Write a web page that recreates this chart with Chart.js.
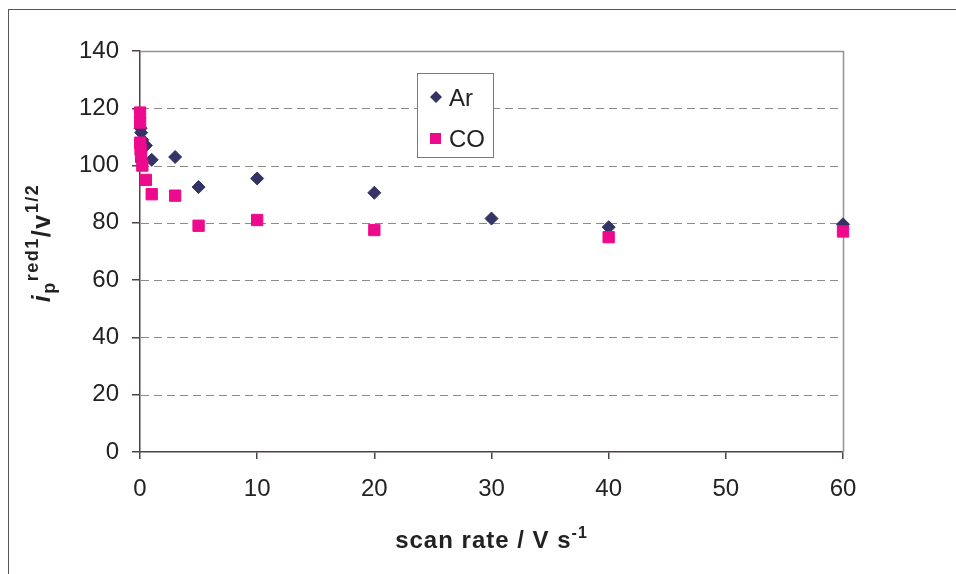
<!DOCTYPE html>
<html>
<head>
<meta charset="utf-8">
<script src="https://cdn.jsdelivr.net/npm/chart.js@4/dist/chart.umd.min.js"></script>
<style>
  html, body { margin: 0; padding: 0; background: #ffffff; }
  #wrap { width: 956px; height: 574px; position: relative; }
</style>
</head>
<body>
<div id="wrap"><canvas id="c" width="956" height="574"></canvas></div>
<script>
// ---- data ----
const arScanRate = [0.05, 0.1, 0.2, 0.5, 1, 3, 5, 10, 20, 30, 40, 60];
const arCurrent  = [113, 111.5, 109, 107, 102, 103, 92.5, 95.5, 90.5, 81.5, 78.5, 79.5];
const coScanRate = [0.005, 0.01, 0.02, 0.05, 0.1, 0.2, 0.5, 1, 3, 5, 10, 20, 40, 60];
const coCurrent  = [118.5, 115, 108, 105.5, 103, 100, 95, 90, 89.5, 79, 81, 77.5, 75, 77];
const seriesNames = ['Ar', 'CO'];
const xTicks = [0, 10, 20, 30, 40, 50, 60];
const yTicks = [0, 20, 40, 60, 80, 100, 120, 140];

const AR_COLOR = '#333366';
const CO_COLOR = '#EE0A8C';
const TEXT = '#222222';
const FONT = '"Liberation Sans", Arial, sans-serif';

function pts(xs, ys) { return xs.map((x, i) => ({ x: x, y: ys[i] })); }

const framePlugin = {
  id: 'frame',
  beforeDatasetsDraw(chart) {
    const { ctx, chartArea: a, scales } = chart;
    ctx.save();
    ctx.strokeStyle = '#8a8a8a';
    ctx.lineWidth = 1;
    ctx.setLineDash([8, 5]);
    yTicks.forEach(v => {
      if (v === yTicks[0] || v === yTicks[yTicks.length - 1]) return;
      const y = Math.round(scales.y.getPixelForValue(v)) + 0.5;
      ctx.beginPath(); ctx.moveTo(a.left + 1, y); ctx.lineTo(a.right, y); ctx.stroke();
    });
    ctx.setLineDash([]);
    ctx.strokeStyle = '#9c8f8f';
    ctx.lineWidth = 1.5;
    const top = Math.round(scales.y.getPixelForValue(yTicks[yTicks.length - 1])) + 0.5;
    const right = Math.round(scales.x.getPixelForValue(xTicks[xTicks.length - 1])) + 0.5;
    ctx.beginPath();
    ctx.moveTo(a.left, top); ctx.lineTo(right, top); ctx.lineTo(right, a.bottom);
    ctx.stroke();
    ctx.restore();
  },
  afterDraw(chart) {
    const { ctx, chartArea: a } = chart;
    ctx.save();
    // outer chart border
    ctx.strokeStyle = '#555555';
    ctx.lineWidth = 1;
    ctx.strokeRect(8.5, 9.5, 1000, 1000);

    // legend
    const lx = 417.5, ly = 73.5, lw = 76, lh = 84;
    ctx.fillStyle = '#ffffff';
    ctx.fillRect(lx, ly, lw, lh);
    ctx.strokeStyle = '#7a7a7a';
    ctx.lineWidth = 1;
    ctx.strokeRect(lx, ly, lw, lh);
    ctx.font = '24px ' + FONT;
    ctx.fillStyle = TEXT;
    ctx.textBaseline = 'alphabetic';
    ctx.textAlign = 'left';
    ctx.fillStyle = AR_COLOR;
    ctx.beginPath();
    ctx.moveTo(436, 91); ctx.lineTo(442, 97); ctx.lineTo(436, 103); ctx.lineTo(430, 97);
    ctx.closePath(); ctx.fill();
    ctx.fillStyle = CO_COLOR;
    ctx.fillRect(430, 133, 11, 11);
    ctx.fillStyle = TEXT;
    ctx.fillText(seriesNames[0], 449, 106);
    ctx.fillText(seriesNames[1], 449, 147);

    function rich(segs, cx, cy, rot, spacing) {
      ctx.save();
      ctx.translate(cx, cy);
      ctx.rotate(rot);
      ctx.letterSpacing = spacing + 'px';
      let total = 0;
      segs.forEach(s => { ctx.font = s.f; s.w = ctx.measureText(s.t).width; total += s.w; });
      let x = -total / 2;
      ctx.fillStyle = TEXT;
      ctx.textAlign = 'left';
      ctx.textBaseline = 'alphabetic';
      segs.forEach(s => { ctx.font = s.f; ctx.fillText(s.t, x, s.dy); x += s.w; });
      ctx.restore();
    }
    rich([
      { t: 'scan rate / V s', f: 'bold 24px ' + FONT, dy: 0 },
      { t: '-1', f: 'bold 16px ' + FONT, dy: -10 }
    ], (a.left + a.right) / 2, 548, 0, 1);
    rich([
      { t: 'i', f: 'italic bold 25px ' + FONT, dy: 0 },
      { t: 'p', f: 'bold 18px ' + FONT, dy: 5 },
      { t: 'red1', f: 'bold 18px ' + FONT, dy: -12 },
      { t: '/v', f: 'bold 25px ' + FONT, dy: 0 },
      { t: '1/2', f: 'bold 18px ' + FONT, dy: -12 }
    ], 50, 243, -Math.PI / 2, 1.5);
    ctx.restore();
  }
};

new Chart(document.getElementById('c'), {
  type: 'scatter',
  data: {
    datasets: [
      {
        label: seriesNames[0],
        data: pts(arScanRate, arCurrent),
        pointStyle: 'rectRot',
        pointRadius: 6.5,
        pointHoverRadius: 6.5,
        backgroundColor: AR_COLOR,
        borderColor: AR_COLOR,
        borderWidth: 1,
        clip: false,
        order: 2
      },
      {
        label: seriesNames[1],
        data: pts(coScanRate, coCurrent),
        pointStyle: 'rect',
        pointRadius: 8,
        pointHoverRadius: 8,
        backgroundColor: CO_COLOR,
        borderColor: CO_COLOR,
        borderWidth: 1,
        clip: false,
        order: 1
      }
    ]
  },
  options: {
    responsive: false,
    animation: false,
    devicePixelRatio: 1,
    layout: { padding: { top: 51, right: 113, left: 0, bottom: 0 } },
    plugins: { legend: { display: false }, tooltip: { enabled: false } },
    scales: {
      x: {
        type: 'linear',
        min: xTicks[0], max: xTicks[xTicks.length - 1],
        afterBuildTicks(s) { s.ticks = xTicks.map(v => ({ value: v })); },
        afterFit(s) { s.height = 122; },
        grid: { display: true, drawOnChartArea: false, drawTicks: true, tickLength: 7, color: '#4d4545', lineWidth: 1.5 },
        border: { display: true, color: '#4d4545', width: 1.5 },
        ticks: { color: TEXT, font: { family: FONT, size: 24 }, padding: 16, maxRotation: 0 }
      },
      y: {
        type: 'linear',
        min: yTicks[0], max: yTicks[yTicks.length - 1],
        afterBuildTicks(s) { s.ticks = yTicks.map(v => ({ value: v })); },
        afterFit(s) { s.width = 140; },
        grid: { display: true, drawOnChartArea: false, drawTicks: true, tickLength: 8, color: '#4d4545', lineWidth: 1.5 },
        border: { display: true, color: '#4d4545', width: 1.5 },
        ticks: { color: TEXT, font: { family: FONT, size: 24 }, padding: 13 }
      }
    }
  },
  plugins: [framePlugin]
});
</script>
</body>
</html>
